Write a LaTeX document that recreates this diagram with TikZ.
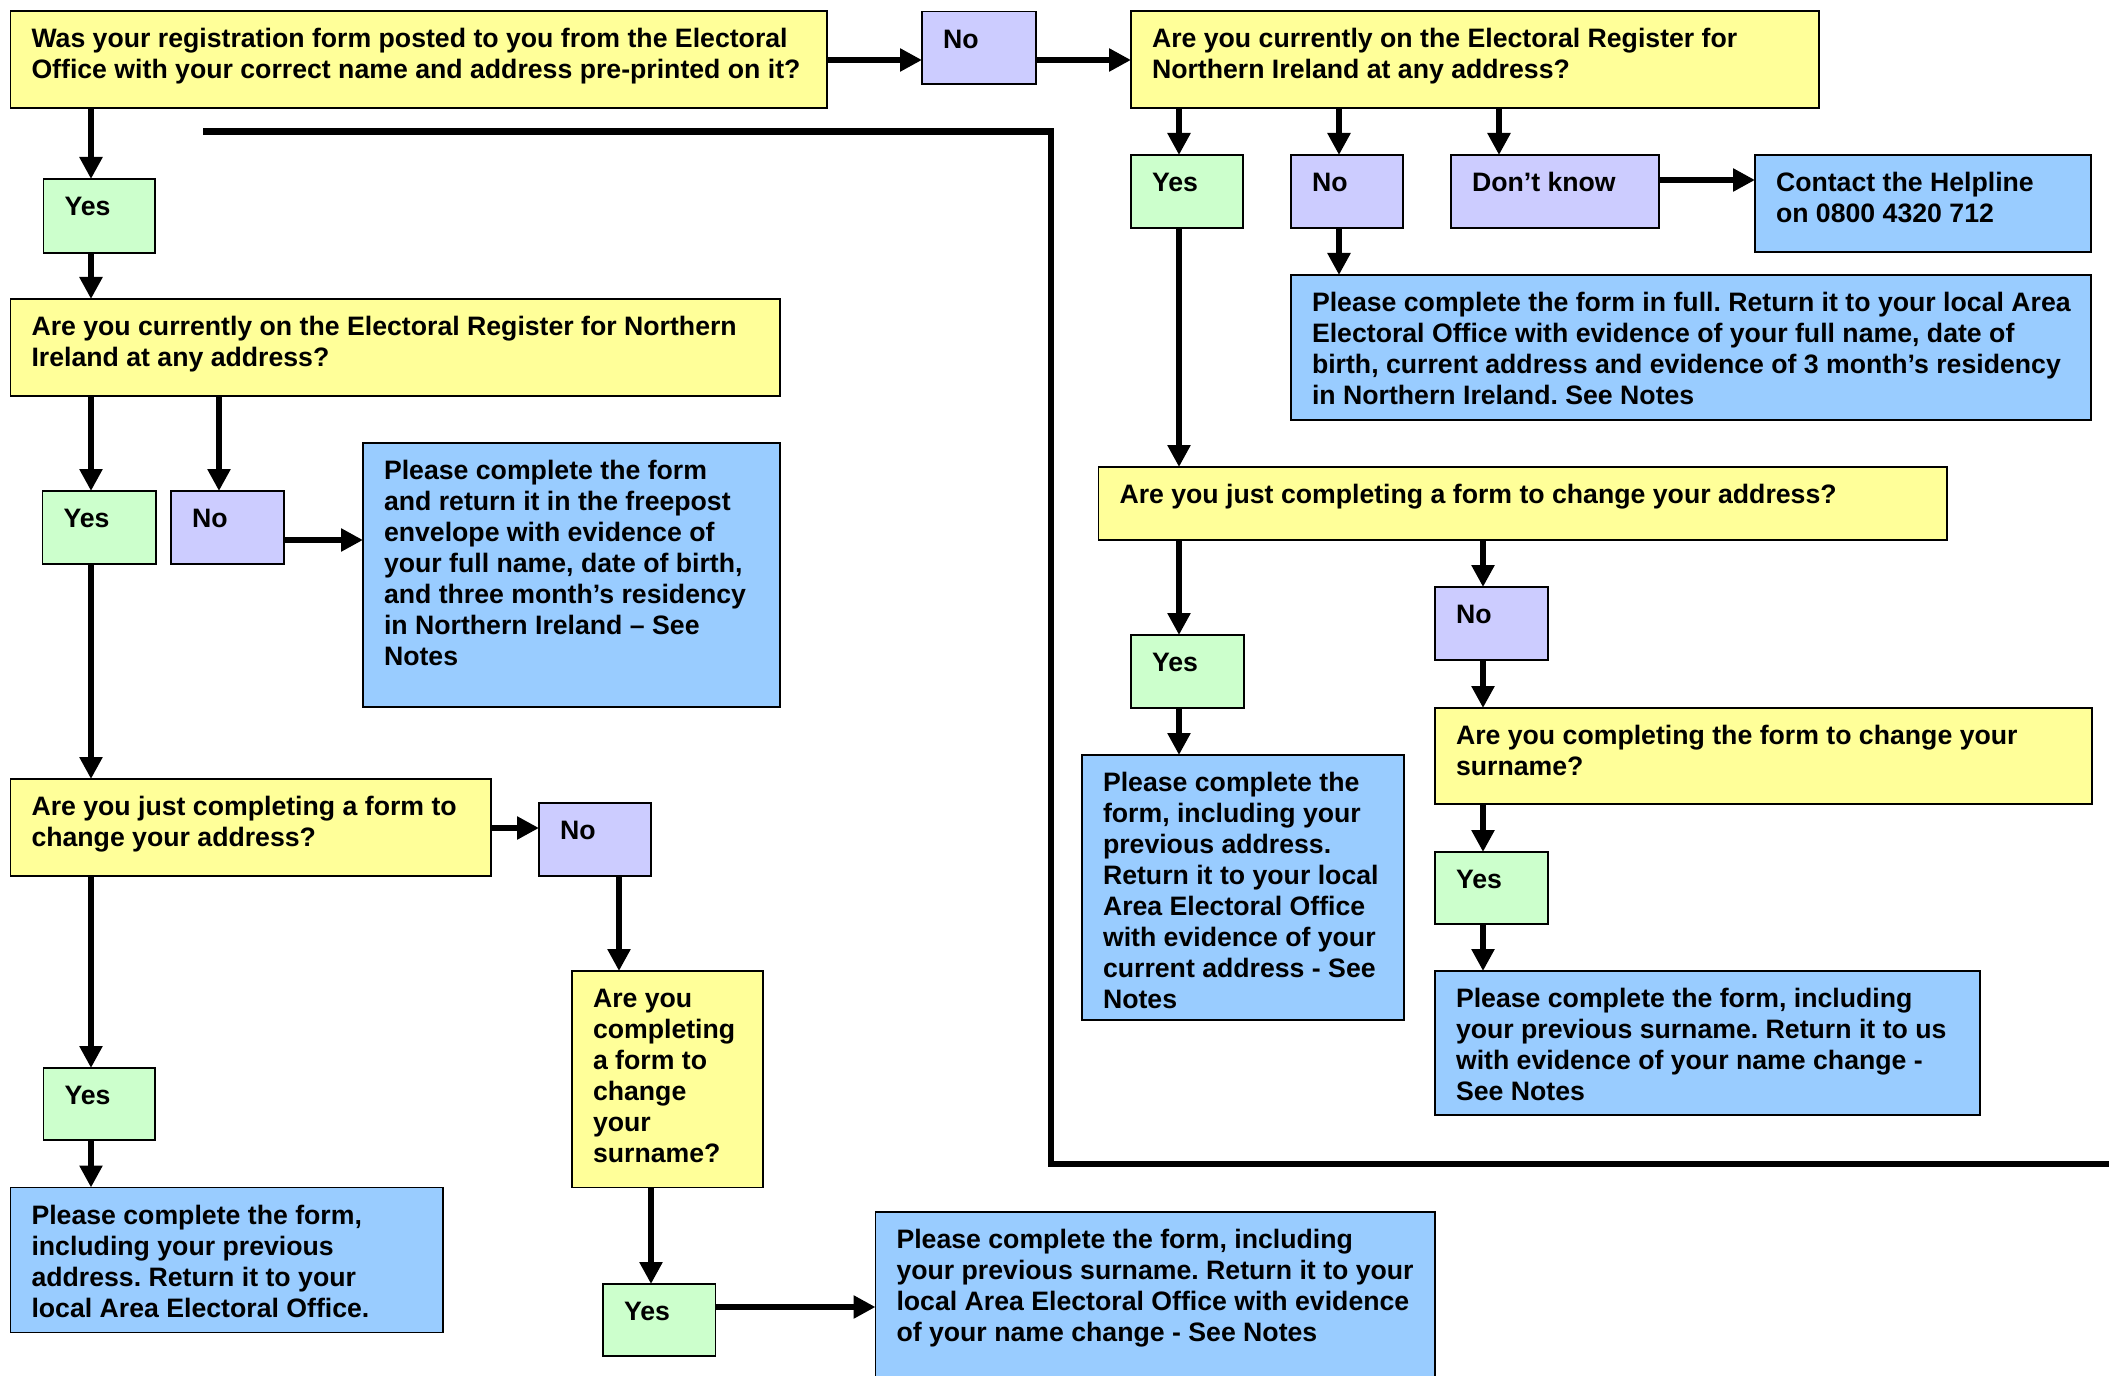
\documentclass[tikz,border=0pt]{standalone}
\usepackage{fontspec}
\setmainfont{Liberation Sans}
\usetikzlibrary{arrows.meta}
\frenchspacing
\definecolor{qyel}{HTML}{FFFF99}
\definecolor{ygrn}{HTML}{CCFFCC}
\definecolor{npur}{HTML}{CCCCFF}
\definecolor{iblu}{HTML}{99CCFF}
\tikzset{
 box/.style={draw=black, line width=1.3pt, rectangle, inner sep=0pt, outer sep=0pt, anchor=north west},
 qbox/.style={box, fill=qyel},
 ybox/.style={box, fill=ygrn},
 nbox/.style={box, fill=npur},
 ibox/.style={box, fill=iblu},
 txt/.style={inner sep=0pt, outer sep=0pt, anchor=base west, font=\bfseries\fontsize{20pt}{23.25pt}\selectfont\frenchspacing, xshift=15.75pt, yshift=-27.4pt},
 arr/.style={line width=5.1pt, -{Triangle[length=16.5pt,width=16.5pt]}},
 flow/.style={line width=5.1pt, line join=miter},
}
\newcommand\bx[7]{%
 \node[#6, minimum width={(#4-#2)*0.75pt}, minimum height={(#5-#3)*0.75pt},
   label={[txt]north west:{\begin{tabular}[t]{@{}l@{}}#7\end{tabular}}}] (#1) at (#2,#3) {};}
\begin{document}
\begin{tikzpicture}[x=0.75pt,y=-0.75pt]
\path[use as bounding box, fill=white] (0,0) rectangle (2109,1376);
\begin{scope}
\clip (0,0) rectangle (2109,1376);
% left column
\bx{q1}{10.5}{11}{827}{108}{qbox}{Was your registration form posted to you from the Electoral\\Office with your correct name and address pre-printed on it?}
\bx{no1}{922}{11.5}{1036}{84}{nbox}{No}
\bx{q2}{1131}{11}{1819}{108}{qbox}{Are you currently on the Electoral Register for\\Northern Ireland at any address?}
\bx{yes1}{43.5}{179}{155}{253}{ybox}{Yes}
\bx{q3}{10.5}{299}{780}{396}{qbox}{Are you currently on the Electoral Register for Northern\\Ireland at any address?}
\bx{yes2}{42.5}{491}{156}{564}{ybox}{Yes}
\bx{no2}{171}{491}{284}{564}{nbox}{No}
\bx{b1}{363}{443}{780}{707}{ibox}{Please complete the form\\and return it in the freepost\\envelope with evidence of\\your full name, date of birth,\\and three month’s residency\\in Northern Ireland – See\\Notes}
\bx{q4}{10.5}{779}{491}{876}{qbox}{Are you just completing a form to\\change your address?}
\bx{no3}{539}{803}{651}{876}{nbox}{No}
\bx{q5}{572}{971}{763}{1187.5}{qbox}{Are you\\completing\\a form to\\change\\your\\surname?}
\bx{yes3}{43.5}{1068}{155}{1140}{ybox}{Yes}
\bx{b2}{10.5}{1187.5}{443}{1332.5}{ibox}{Please complete the form,\\including your previous\\address. Return it to your\\local Area Electoral Office.}
\bx{yes4}{603}{1284}{715.5}{1356}{ybox}{Yes}
\bx{b3}{875.5}{1212}{1435}{1395}{ibox}{Please complete the form, including\\your previous surname. Return it to your\\local Area Electoral Office with evidence\\of your name change - See Notes}
% right column
\bx{yes5}{1131}{155}{1243}{228}{ybox}{Yes}
\bx{no4}{1291}{155}{1403}{228}{nbox}{No}
\bx{dk}{1451}{155}{1659}{228}{nbox}{Don’t know}
\bx{b4}{1755}{155}{2091}{252}{ibox}{Contact the Helpline\\on 0800 4320 712}
\bx{b5}{1291}{275}{2091}{420}{ibox}{Please complete the form in full. Return it to your local Area\\Electoral Office with evidence of your full name, date of\\birth, current address and evidence of 3 month’s residency\\in Northern Ireland. See Notes}
\bx{q6}{1098.5}{467}{1947}{540}{qbox}{Are you just completing a form to change your address?}
\bx{yes6}{1131}{635}{1244}{708}{ybox}{Yes}
\bx{no5}{1435}{587}{1548}{660}{nbox}{No}
\bx{q7}{1435}{708}{2092}{804}{qbox}{Are you completing the form to change your\\surname?}
\bx{b6}{1082}{755}{1404}{1020}{ibox}{Please complete the\\form, including your\\previous address.\\Return it to your local\\Area Electoral Office\\with evidence of your\\current address - See\\Notes}
\bx{yes7}{1435}{852}{1548}{924}{ybox}{Yes}
\bx{b7}{1435}{971}{1980}{1115}{ibox}{Please complete the form, including\\your previous surname. Return it to us\\with evidence of your name change -\\See Notes}
% guide coordinates
\coordinate (xa) at (91,0);
\coordinate (xb) at (219,0);
\coordinate (xc) at (619,0);
\coordinate (xd) at (651,0);
\coordinate (xe) at (1179,0);
\coordinate (xf) at (1339,0);
\coordinate (xg) at (1499,0);
\coordinate (xh) at (1483,0);
\coordinate (ya) at (0,60);
\coordinate (yb) at (0,540);
\coordinate (yc) at (0,828);
\coordinate (yd) at (0,1307);
\coordinate (ye) at (0,180);
% connectors
\draw[arr] (q1.east |- ya) -- (no1.west |- ya);
\draw[arr] (no1.east |- ya) -- (q2.west |- ya);
\draw[arr] (q1.south -| xa) -- (yes1.north -| xa);
\draw[arr] (yes1.south -| xa) -- (q3.north -| xa);
\draw[arr] (q3.south -| xa) -- (yes2.north -| xa);
\draw[arr] (q3.south -| xb) -- (no2.north -| xb);
\draw[arr] (no2.east |- yb) -- (b1.west |- yb);
\draw[arr] (yes2.south -| xa) -- (q4.north -| xa);
\draw[arr] (q4.east |- yc) -- (no3.west |- yc);
\draw[arr] (q4.south -| xa) -- (yes3.north -| xa);
\draw[arr] (yes3.south -| xa) -- (b2.north -| xa);
\draw[arr] (no3.south -| xc) -- (q5.north -| xc);
\draw[arr] (q5.south -| xd) -- (yes4.north -| xd);
\draw[arr] (yes4.east |- yd) -- (b3.west |- yd);
\draw[arr] (q2.south -| xe) -- (yes5.north -| xe);
\draw[arr] (q2.south -| xf) -- (no4.north -| xf);
\draw[arr] (q2.south -| xg) -- (dk.north -| xg);
\draw[arr] (dk.east |- ye) -- (b4.west |- ye);
\draw[arr] (no4.south -| xf) -- (b5.north -| xf);
\draw[arr] (yes5.south -| xe) -- (q6.north -| xe);
\draw[arr] (q6.south -| xe) -- (yes6.north -| xe);
\draw[arr] (q6.south -| xh) -- (no5.north -| xh);
\draw[arr] (yes6.south -| xe) -- (b6.north -| xe);
\draw[arr] (no5.south -| xh) -- (q7.north -| xh);
\draw[arr] (q7.south -| xh) -- (yes7.north -| xh);
\draw[arr] (yes7.south -| xh) -- (b7.north -| xh);
% long bracket line
\coordinate (la) at (203,131.5);
\coordinate (lb) at (1051,131.5);
\coordinate (lc) at (1051,1164);
\coordinate (ld) at (2115,1164);
\draw[flow] (la) -- (lb) -- (lc) -- (ld);
\end{scope}
\end{tikzpicture}
\end{document}
